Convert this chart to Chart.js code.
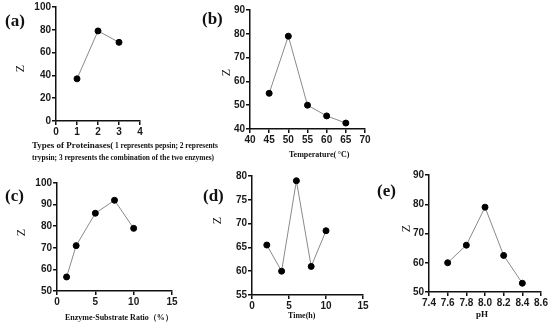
<!DOCTYPE html>
<html>
<head>
<meta charset="utf-8">
<script src="https://cdn.jsdelivr.net/npm/chart.js@4"></script>
<style>
  body { margin: 0; background: #fff; }
  #wrap { position: relative; width: 550px; height: 325px; overflow: hidden; }
  canvas { position: absolute; }
  .lbl { position: absolute; font-family: "Liberation Serif", serif; font-weight: bold; color: #111; white-space: nowrap; }
  .panel { font-size: 17px; }
  .z { font-size: 12px; font-weight: normal; transform: rotate(-90deg); transform-origin: center; }
  .xt { font-size: 7.4px; }
</style>
</head>
<body>
<div id="wrap">
  <canvas id="chartA"></canvas>
  <canvas id="chartB"></canvas>
  <canvas id="chartC"></canvas>
  <canvas id="chartD"></canvas>
  <canvas id="chartE"></canvas>

  <div class="lbl panel" style="left:5px;top:11px;">(a)</div>
  <div class="lbl panel" style="left:202px;top:9px;">(b)</div>
  <div class="lbl panel" style="left:5px;top:186px;">(c)</div>
  <div class="lbl panel" style="left:203px;top:186px;">(d)</div>
  <div class="lbl panel" style="left:377px;top:181px;">(e)</div>

  <div class="lbl z" style="left:17px;top:61px;">Z</div>
  <div class="lbl z" style="left:223px;top:65px;">Z</div>
  <div class="lbl z" style="left:18px;top:225px;">Z</div>
  <div class="lbl z" style="left:214px;top:213px;">Z</div>
  <div class="lbl z" style="left:403px;top:221px;">Z</div>

  <div class="lbl xt" style="left:32px;top:140px;"><span style="font-size:9px;">Types of Proteinases(</span> 1 represents pepsin; 2 represents</div>
  <div class="lbl xt" style="left:32px;top:153px;">trypsin; 3 represents the combination of the two enzymes)</div>
  <div class="lbl xt" style="left:289px;top:150px;font-size:8px;">Temperature(&#8201;°C)</div>
  <div class="lbl xt" style="left:65px;top:312px;font-size:8px;">Enzyme-Substrate Ratio（%）</div>
  <div class="lbl xt" style="left:288px;top:311px;font-size:8px;">Time(h)</div>
  <div class="lbl xt" style="left:476px;top:309px;font-size:9px;">pH</div>
</div>
<script>
// (a) proteinase type
const typeX = [1, 2, 3];
const typeZ = [37, 79, 69];
// (b) temperature
const tempX = [45, 50, 55, 60, 65];
const tempZ = [55, 79, 50, 45.5, 42.5];
// (c) enzyme-substrate ratio
const ratioX = [1.25, 2.5, 5, 7.5, 10];
const ratioZ = [56.5, 71, 86, 92, 79];
// (d) time
const timeX = [2, 4, 6, 8, 10];
const timeZ = [65.5, 60, 79, 61, 68.5];
// (e) pH
const phX = [7.6, 7.8, 8.0, 8.2, 8.4];
const phZ = [60, 66, 79, 62.5, 53];

const PAD_L = 40, PAD_T = 7, PAD_R = 9, PAD_B = 22;

function makeChart(id, area, xs, ys, xr, yr, decimals) {
  const canvas = document.getElementById(id);
  const w = area.right - area.left + PAD_L + PAD_R;
  const h = area.bottom - area.top + PAD_T + PAD_B;
  canvas.style.left = (area.left - PAD_L) + "px";
  canvas.style.top = (area.top - PAD_T) + "px";
  canvas.style.width = w + "px";
  canvas.style.height = h + "px";
  canvas.width = w;
  canvas.height = h;

  const tickFont = { family: "Liberation Sans", size: 10, weight: "bold" };
  const axisCommon = {
    type: "linear",
    border: { color: "#111", width: 1.5 },
    grid: { drawOnChartArea: false, color: "#111", tickLength: 4, lineWidth: 1.5 },
    ticks: { color: "#1a1a1a", font: tickFont, padding: 1 }
  };

  new Chart(canvas, {
    type: "scatter",
    data: {
      datasets: [{
        data: xs.map((x, i) => ({ x: x, y: ys[i] })),
        showLine: true,
        borderColor: "#8a8a8a",
        borderWidth: 1,
        pointBackgroundColor: "#000",
        pointBorderColor: "#000",
        pointRadius: 3
      }]
    },
    options: {
      responsive: false,
      animation: false,
      layout: { padding: { left: 0, top: PAD_T, right: PAD_R, bottom: 0 } },
      plugins: { legend: { display: false }, tooltip: { enabled: false } },
      scales: {
        x: {
          ...axisCommon,
          min: xr[0], max: xr[1],
          ticks: { ...axisCommon.ticks, stepSize: xr[2], autoSkip: false, maxRotation: 0,
            callback: (v) => decimals ? v.toFixed(1) : v },
          afterFit: (s) => { s.height = PAD_B; }
        },
        y: {
          ...axisCommon,
          min: yr[0], max: yr[1],
          ticks: { ...axisCommon.ticks, stepSize: yr[2] },
          afterFit: (s) => { s.width = PAD_L; }
        }
      }
    }
  });
}

makeChart("chartA", { left: 56, top: 7, right: 140, bottom: 121 }, typeX, typeZ, [0, 4, 1], [0, 100, 20], false);
makeChart("chartB", { left: 250, top: 10, right: 365, bottom: 129 }, tempX, tempZ, [40, 70, 5], [40, 90, 10], false);
makeChart("chartC", { left: 57, top: 183, right: 172, bottom: 291 }, ratioX, ratioZ, [0, 15, 5], [50, 100, 10], false);
makeChart("chartD", { left: 252, top: 176, right: 363, bottom: 295 }, timeX, timeZ, [0, 15, 5], [55, 80, 5], false);
makeChart("chartE", { left: 429, top: 175, right: 541, bottom: 292 }, phX, phZ, [7.4, 8.6, 0.2], [50, 90, 10], true);
</script>
</body>
</html>
